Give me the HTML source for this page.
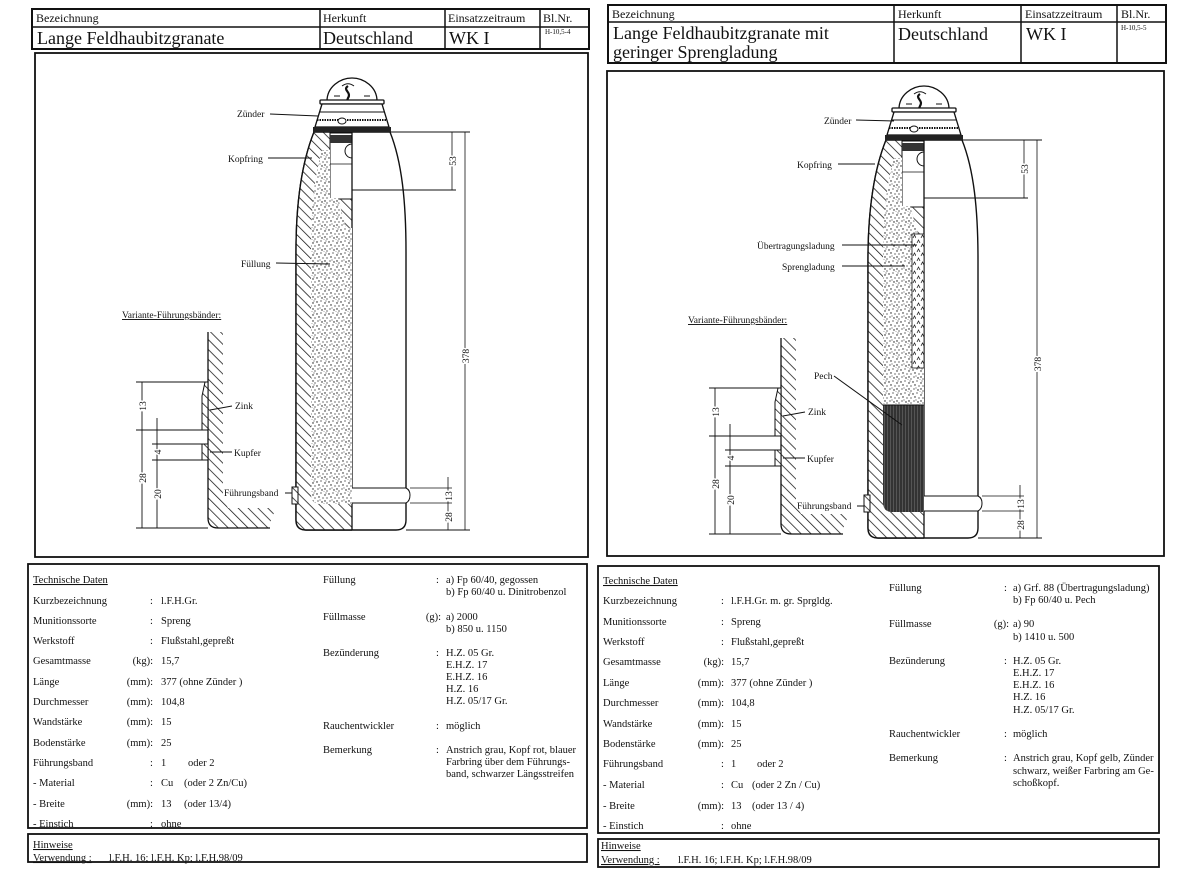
<!DOCTYPE html>
<html><head><meta charset="utf-8"><style>
html,body{margin:0;padding:0;background:#fff;}
svg{display:block;font-family:"Liberation Serif",serif;}
.t{font-size:10.5px;fill:#111;}
.h{font-size:12px;fill:#111;}
.big{font-size:18px;fill:#111;}
.lb{font-size:9.5px;fill:#111;}
.sm{font-size:7px;fill:#111;}
</style></head><body>
<svg width="1200" height="890" viewBox="0 0 1200 890" xmlns="http://www.w3.org/2000/svg">
<defs>
<pattern id="hatch" width="7" height="7" patternUnits="userSpaceOnUse" patternTransform="rotate(-45)">
<rect width="7" height="7" fill="#fff"/><line x1="0" y1="0" x2="0" y2="7" stroke="#111" stroke-width="1.5"/></pattern>
<pattern id="stip" width="12" height="12" patternUnits="userSpaceOnUse">
<rect width="12" height="12" fill="#fff"/>
<g fill="#111"><circle cx="1" cy="2" r=".7"/><circle cx="5" cy="1" r=".6"/><circle cx="9" cy="3" r=".7"/><circle cx="11" cy="6" r=".6"/><circle cx="3" cy="5" r=".7"/><circle cx="7" cy="6" r=".6"/><circle cx="2" cy="9" r=".6"/><circle cx="6" cy="10" r=".7"/><circle cx="9" cy="9" r=".7"/><circle cx="11" cy="11" r=".6"/><circle cx="10" cy="1" r=".5"/><circle cx="4" cy="8" r=".5"/><circle cx="8" cy="12" r=".5"/></g></pattern>
<pattern id="stip2" width="8" height="9" patternUnits="userSpaceOnUse">
<rect width="8" height="9" fill="#fff"/><path d="M1,4 l1.5,-3 l1.5,3 M5,8 l1.5,-3 l1.5,3" stroke="#222" stroke-width=".8" fill="none"/></pattern>
<pattern id="pech" width="3" height="10" patternUnits="userSpaceOnUse">
<rect width="3" height="10" fill="#555"/><line x1="1" y1="0" x2="1" y2="10" stroke="#111" stroke-width="1"/></pattern>
<clipPath id="lefthalf"><rect x="-80" y="-10" width="80" height="420"/></clipPath>

<g id="fuze">
<path d="M-25,-31 C-25,-45 -12,-54 0,-54 C12,-54 25,-45 25,-31 Z" fill="#fff" stroke="#111" stroke-width="1.3"/>
<path d="M-4,-46 c-6,4 4,6 0,12 c-3,6 3,8 1,14 c-1,5 3,6 2,10" stroke="#111" stroke-width="2.2" fill="none"/>
<path d="M-10,-46 c4,-3 8,-3 12,0 M-18,-36 h6 M12,-36 h6" stroke="#111" stroke-width="1" fill="none"/>
<rect x="-32" y="-32" width="64" height="4" rx="1" fill="#fff" stroke="#111" stroke-width="1.3"/>
<path d="M-30,-28 L-37,-5 L37,-5 L30,-28 Z" fill="#fff" stroke="#111" stroke-width="1.3"/>
<line x1="-33" y1="-20" x2="33" y2="-20" stroke="#111" stroke-width=".9"/>
<line x1="-35" y1="-12" x2="35" y2="-12" stroke="#111" stroke-width="2" stroke-dasharray="1.5 1"/>
<ellipse cx="-10" cy="-11" rx="4" ry="3" fill="#fff" stroke="#111"/>
<rect x="-39" y="-5" width="78" height="5" fill="#222"/>
</g>

<g id="shell">
<path d="M-38,0 C-50,30 -56,70 -56,120 L-56,388 Q-56,398 -46,398 L44,398 Q54,398 54,388 L54,120 C54,70 50,30 38,0 Z" fill="#fff" stroke="#111" stroke-width="1.4"/>
<g clip-path="url(#lefthalf)"><path d="M-38,0 C-50,30 -56,70 -56,120 L-56,388 Q-56,398 -46,398 L44,398 Q54,398 54,388 L54,120 C54,70 50,30 38,0 Z" fill="url(#hatch)" stroke="#111" stroke-width="1.4"/></g>
<rect x="-22" y="1" width="22" height="66" fill="#fff" stroke="#111" stroke-width="1"/>
<rect x="-22" y="3" width="22" height="8" fill="#333"/>
<line x1="-22" y1="32" x2="0" y2="32" stroke="#111" stroke-width=".8"/>
<path d="M0,12 a7,7 0 0 0 0,14" fill="none" stroke="#111"/>
<rect x="-60" y="355" width="6" height="17" fill="url(#hatch)" stroke="#111" stroke-width="1"/>
<line x1="0" y1="0" x2="0" y2="398" stroke="#111" stroke-width="1.3"/>
<path d="M0,356 L54,356 Q58,358 58,363 Q58,369 54,371 L0,371" fill="#fff" stroke="#111" stroke-width="1"/>
<line x1="0" y1="0" x2="118" y2="0" stroke="#111" stroke-width="1"/>
<line x1="0" y1="58" x2="104" y2="58" stroke="#111" stroke-width="1"/>
<line x1="100" y1="0" x2="100" y2="58" stroke="#111" stroke-width=".8"/>
<line x1="113" y1="0" x2="113" y2="398" stroke="#111" stroke-width=".8"/>
<line x1="54" y1="398" x2="118" y2="398" stroke="#111" stroke-width="1"/>
<line x1="58" y1="356" x2="100" y2="356" stroke="#111" stroke-width=".8"/>
<line x1="58" y1="371" x2="100" y2="371" stroke="#111" stroke-width=".8"/>
<line x1="96" y1="345" x2="96" y2="398" stroke="#111" stroke-width=".8"/>
<text class="lb" transform="translate(104,29) rotate(-90)" text-anchor="middle" style="paint-order:stroke;stroke:#fff;stroke-width:3px">53</text>
<text class="lb" transform="translate(117,224) rotate(-90)" text-anchor="middle" style="paint-order:stroke;stroke:#fff;stroke-width:3px">378</text>
<text class="lb" transform="translate(100,364) rotate(-90)" text-anchor="middle" style="paint-order:stroke;stroke:#fff;stroke-width:3px">13</text>
<text class="lb" transform="translate(100,385) rotate(-90)" text-anchor="middle" style="paint-order:stroke;stroke:#fff;stroke-width:3px">28</text>
</g>

<g id="variant">
<path d="M0,-196 L0,-10 Q0,0 10,0 L60,0 L68,-20 L20,-20 L15,-30 L15,-196 Z" fill="url(#hatch)"/>
<path d="M0,-196 L0,-10 Q0,0 10,0 L62,0" fill="none" stroke="#111" stroke-width="1.3"/>
<path d="M-3,-146 L0,-146 L0,-98 L-6,-98 L-6,-132 Z" fill="url(#hatch)" stroke="#111" stroke-width="1"/>
<rect x="-6" y="-84" width="6" height="16" fill="url(#hatch)" stroke="#111" stroke-width="1"/>
<g stroke="#111" stroke-width=".9">
<line x1="-72" y1="-146" x2="-3" y2="-146"/><line x1="-72" y1="-98" x2="-6" y2="-98"/>
<line x1="-56" y1="-84" x2="-6" y2="-84"/><line x1="-56" y1="-68" x2="-6" y2="-68"/>
<line x1="-72" y1="0" x2="0" y2="0"/>
<line x1="-66" y1="-146" x2="-66" y2="0"/><line x1="-51" y1="-110" x2="-51" y2="0"/>
<line x1="2" y1="-118" x2="24" y2="-122"/><line x1="2" y1="-76" x2="24" y2="-76"/>
</g>
<g class="lb" style="paint-order:stroke;stroke:#fff;stroke-width:3px">
<text transform="translate(-62,-122) rotate(-90)" text-anchor="middle">13</text>
<text transform="translate(-62,-50) rotate(-90)" text-anchor="middle">28</text>
<text transform="translate(-47,-76) rotate(-90)" text-anchor="middle">4</text>
<text transform="translate(-47,-34) rotate(-90)" text-anchor="middle">20</text>
</g>
<text class="lb" x="27" y="-119">Zink</text>
<text class="lb" x="26" y="-72">Kupfer</text>
</g>
</defs>

<!-- LEFT SHEET -->
<g fill="none" stroke="#111">
<rect x="32" y="9" width="557" height="40" stroke-width="2"/>
<line x1="32" y1="27" x2="589" y2="27" stroke-width="1.5"/>
<line x1="320" y1="9" x2="320" y2="49" stroke-width="1.5"/>
<line x1="445" y1="9" x2="445" y2="49" stroke-width="1.5"/>
<line x1="540" y1="9" x2="540" y2="49" stroke-width="1.5"/>
<rect x="35" y="53" width="553" height="504" stroke-width="1.8"/>
<rect x="28" y="564" width="559" height="264" stroke-width="1.8"/>
<rect x="28" y="834" width="559" height="28" stroke-width="1.8"/>
</g>
<text class="h" x="36" y="22">Bezeichnung</text>
<text class="h" x="323" y="22">Herkunft</text>
<text class="h" x="448" y="22">Einsatzzeitraum</text>
<text class="h" x="543" y="22">Bl.Nr.</text>
<text class="big" x="37" y="44">Lange Feldhaubitzgranate</text>
<text class="big" x="323" y="44">Deutschland</text>
<text class="big" x="449" y="44">WK I</text>
<text class="sm" x="545" y="34">H-10,5-4</text>

<use href="#shell" transform="translate(352,132)"/>
<g transform="translate(352,132)">
<path d="M-30,18 L-22,18 L-22,66 L-14,66 L-6,96 L0,96 L0,372 L-32,372 Q-41,372 -41,362 L-41,120 C-41,80 -38,45 -30,18 Z" fill="url(#stip)"/>
</g>
<use href="#fuze" transform="translate(352,132)"/>
<g stroke="#111" stroke-width="1">
<line x1="270" y1="114" x2="318" y2="116"/>
<line x1="268" y1="158" x2="312" y2="158"/>
<line x1="276" y1="263" x2="330" y2="264"/>
<line x1="285" y1="493" x2="292" y2="493"/>
</g>
<text class="lb" x="237" y="117">Zünder</text>
<text class="lb" x="228" y="162">Kopfring</text>
<text class="lb" x="241" y="267">Füllung</text>
<text class="lb" x="224" y="496">Führungsband</text>
<text class="lb" x="122" y="318" text-decoration="underline">Variante-Führungsbänder:</text>
<use href="#variant" transform="translate(208,528)"/>

<g class="t">
<text x="33" y="583" text-decoration="underline">Technische Daten</text>
<text x="33" y="604">Kurzbezeichnung</text><text x="150" y="604">:</text><text x="161" y="604">l.F.H.Gr.</text>
<text x="33" y="624">Munitionssorte</text><text x="150" y="624">:</text><text x="161" y="624">Spreng</text>
<text x="33" y="644">Werkstoff</text><text x="150" y="644">:</text><text x="161" y="644">Flußstahl,gepreßt</text>
<text x="33" y="664">Gesamtmasse</text><text x="153" y="664" text-anchor="end">(kg):</text><text x="161" y="664">15,7</text>
<text x="33" y="685">Länge</text><text x="153" y="685" text-anchor="end">(mm):</text><text x="161" y="685">377 (ohne Zünder )</text>
<text x="33" y="705">Durchmesser</text><text x="153" y="705" text-anchor="end">(mm):</text><text x="161" y="705">104,8</text>
<text x="33" y="725">Wandstärke</text><text x="153" y="725" text-anchor="end">(mm):</text><text x="161" y="725">15</text>
<text x="33" y="746">Bodenstärke</text><text x="153" y="746" text-anchor="end">(mm):</text><text x="161" y="746">25</text>
<text x="33" y="766">Führungsband</text><text x="150" y="766">:</text><text x="161" y="766">1</text><text x="188" y="766">oder 2</text>
<text x="33" y="786">- Material</text><text x="150" y="786">:</text><text x="161" y="786">Cu</text><text x="184" y="786">(oder 2 Zn/Cu)</text>
<text x="33" y="807">- Breite</text><text x="153" y="807" text-anchor="end">(mm):</text><text x="161" y="807">13</text><text x="184" y="807">(oder 13/4)</text>
<text x="33" y="827">- Einstich</text><text x="150" y="827">:</text><text x="161" y="827">ohne</text>
<text x="323" y="583">Füllung</text><text x="436" y="583">:</text><text x="446" y="583">a) Fp 60/40, gegossen</text>
<text x="446" y="595">b) Fp 60/40 u. Dinitrobenzol</text>
<text x="323" y="620">Füllmasse</text><text x="441" y="620" text-anchor="end">(g):</text><text x="446" y="620">a) 2000</text>
<text x="446" y="632">b) 850 u. 1150</text>
<text x="323" y="656">Bezünderung</text><text x="436" y="656">:</text><text x="446" y="656">H.Z. 05 Gr.</text>
<text x="446" y="668">E.H.Z. 17</text><text x="446" y="680">E.H.Z. 16</text><text x="446" y="692">H.Z. 16</text><text x="446" y="704">H.Z. 05/17 Gr.</text>
<text x="323" y="729">Rauchentwickler</text><text x="436" y="729">:</text><text x="446" y="729">möglich</text>
<text x="323" y="753">Bemerkung</text><text x="436" y="753">:</text><text x="446" y="753">Anstrich grau, Kopf rot, blauer</text>
<text x="446" y="765">Farbring über dem Führungs-</text><text x="446" y="777">band, schwarzer Längsstreifen</text>
<text x="33" y="848" text-decoration="underline">Hinweise</text>
<text x="33" y="861" text-decoration="underline">Verwendung :</text><text x="109" y="861">l.F.H. 16;  l.F.H. Kp;  l.F.H.98/09</text>
</g>

<!-- RIGHT SHEET -->
<g fill="none" stroke="#111">
<rect x="608" y="5" width="558" height="58" stroke-width="2"/>
<line x1="608" y1="22" x2="1166" y2="22" stroke-width="1.5"/>
<line x1="894" y1="5" x2="894" y2="63" stroke-width="1.5"/>
<line x1="1021" y1="5" x2="1021" y2="63" stroke-width="1.5"/>
<line x1="1117" y1="5" x2="1117" y2="63" stroke-width="1.5"/>
<rect x="607" y="71" width="557" height="485" stroke-width="1.8"/>
<rect x="598" y="566" width="561" height="267" stroke-width="1.8"/>
<rect x="598" y="839" width="561" height="28" stroke-width="1.8"/>
</g>
<text class="h" x="612" y="18">Bezeichnung</text>
<text class="h" x="898" y="18">Herkunft</text>
<text class="h" x="1025" y="18">Einsatzzeitraum</text>
<text class="h" x="1121" y="18">Bl.Nr.</text>
<text class="big" x="613" y="39">Lange Feldhaubitzgranate mit</text>
<text class="big" x="613" y="58">geringer Sprengladung</text>
<text class="big" x="898" y="40">Deutschland</text>
<text class="big" x="1026" y="40">WK I</text>
<text class="sm" x="1121" y="30">H-10,5-5</text>

<use href="#shell" transform="translate(924,140)"/>
<g transform="translate(924,140)">
<path d="M-30,18 L-22,18 L-22,66 L-14,66 L-6,94 L0,94 L0,265 L-41,265 L-41,120 C-41,80 -38,45 -30,18 Z" fill="url(#stip)"/>
<rect x="-12" y="94" width="12" height="134" fill="url(#stip2)" stroke="#111" stroke-width=".8"/>
<path d="M0,265 L0,372 L-32,372 Q-41,372 -41,362 L-41,265 Z" fill="url(#pech)"/>
<line x1="-41" y1="265" x2="0" y2="265" stroke="#111"/>
</g>
<use href="#fuze" transform="translate(924,140)"/>
<g stroke="#111" stroke-width="1">
<line x1="856" y1="120" x2="894" y2="121"/>
<line x1="838" y1="164" x2="875" y2="164"/>
<line x1="842" y1="245" x2="917" y2="245"/>
<line x1="842" y1="266" x2="905" y2="266"/>
<line x1="834" y1="376" x2="902" y2="425"/>
<line x1="857" y1="506" x2="864" y2="506"/>
</g>
<text class="lb" x="824" y="124">Zünder</text>
<text class="lb" x="797" y="168">Kopfring</text>
<text class="lb" x="757" y="249">Übertragungsladung</text>
<text class="lb" x="782" y="270">Sprengladung</text>
<text class="lb" x="814" y="379">Pech</text>
<text class="lb" x="797" y="509">Führungsband</text>
<text class="lb" x="688" y="323" text-decoration="underline">Variante-Führungsbänder:</text>
<use href="#variant" transform="translate(781,534)"/>

<g class="t">
<text x="603" y="584" text-decoration="underline">Technische Daten</text>
<text x="603" y="604">Kurzbezeichnung</text><text x="721" y="604">:</text><text x="731" y="604">l.F.H.Gr. m. gr. Sprgldg.</text>
<text x="603" y="625">Munitionssorte</text><text x="721" y="625">:</text><text x="731" y="625">Spreng</text>
<text x="603" y="645">Werkstoff</text><text x="721" y="645">:</text><text x="731" y="645">Flußstahl,gepreßt</text>
<text x="603" y="665">Gesamtmasse</text><text x="724" y="665" text-anchor="end">(kg):</text><text x="731" y="665">15,7</text>
<text x="603" y="686">Länge</text><text x="724" y="686" text-anchor="end">(mm):</text><text x="731" y="686">377 (ohne Zünder )</text>
<text x="603" y="706">Durchmesser</text><text x="724" y="706" text-anchor="end">(mm):</text><text x="731" y="706">104,8</text>
<text x="603" y="727">Wandstärke</text><text x="724" y="727" text-anchor="end">(mm):</text><text x="731" y="727">15</text>
<text x="603" y="747">Bodenstärke</text><text x="724" y="747" text-anchor="end">(mm):</text><text x="731" y="747">25</text>
<text x="603" y="767">Führungsband</text><text x="721" y="767">:</text><text x="731" y="767">1</text><text x="757" y="767">oder 2</text>
<text x="603" y="788">- Material</text><text x="721" y="788">:</text><text x="731" y="788">Cu</text><text x="752" y="788">(oder 2 Zn / Cu)</text>
<text x="603" y="809">- Breite</text><text x="724" y="809" text-anchor="end">(mm):</text><text x="731" y="809">13</text><text x="752" y="809">(oder 13 / 4)</text>
<text x="603" y="829">- Einstich</text><text x="721" y="829">:</text><text x="731" y="829">ohne</text>
<text x="889" y="591">Füllung</text><text x="1004" y="591">:</text><text x="1013" y="591">a) Grf. 88 (Übertragungsladung)</text>
<text x="1013" y="603">b) Fp 60/40 u. Pech</text>
<text x="889" y="627">Füllmasse</text><text x="1009" y="627" text-anchor="end">(g):</text><text x="1013" y="627">a) 90</text>
<text x="1013" y="640">b) 1410 u. 500</text>
<text x="889" y="664">Bezünderung</text><text x="1004" y="664">:</text><text x="1013" y="664">H.Z. 05 Gr.</text>
<text x="1013" y="676">E.H.Z. 17</text><text x="1013" y="688">E.H.Z. 16</text><text x="1013" y="700">H.Z. 16</text><text x="1013" y="713">H.Z. 05/17 Gr.</text>
<text x="889" y="737">Rauchentwickler</text><text x="1004" y="737">:</text><text x="1013" y="737">möglich</text>
<text x="889" y="761">Bemerkung</text><text x="1004" y="761">:</text><text x="1013" y="761">Anstrich grau, Kopf gelb, Zünder</text>
<text x="1013" y="774">schwarz, weißer Farbring am Ge-</text><text x="1013" y="786">schoßkopf.</text>
<text x="601" y="849" text-decoration="underline">Hinweise</text>
<text x="601" y="863" text-decoration="underline">Verwendung :</text><text x="678" y="863">l.F.H. 16;  l.F.H. Kp;  l.F.H.98/09</text>
</g>
</svg>
</body></html>
